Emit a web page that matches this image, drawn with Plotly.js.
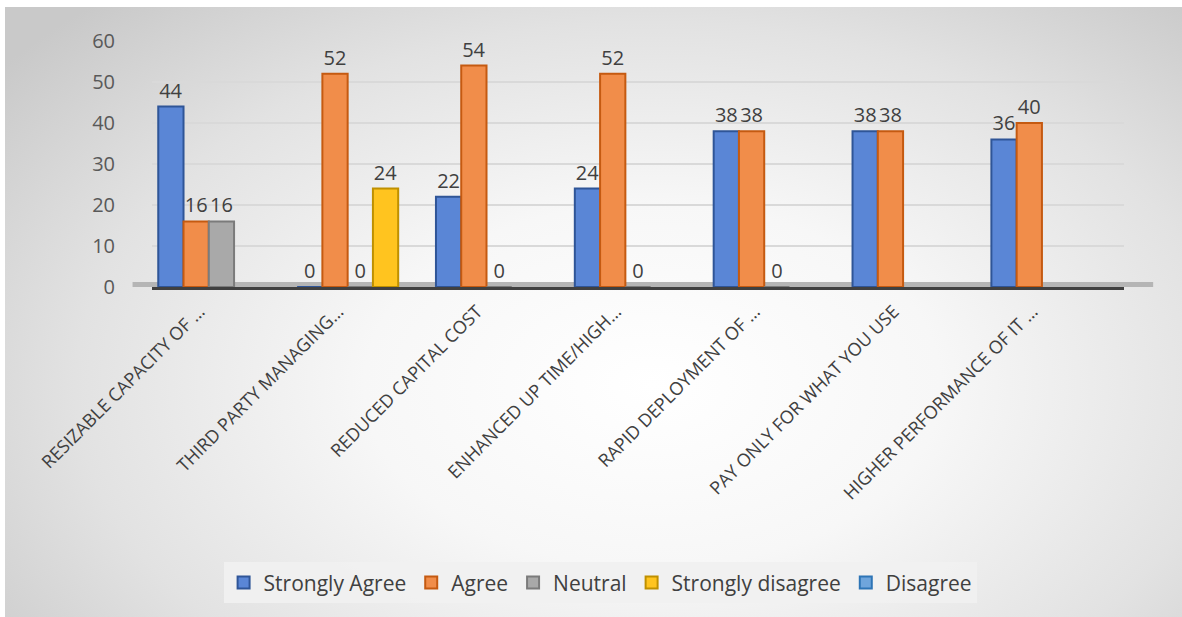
<!DOCTYPE html>
<html>
<head>
<meta charset="utf-8">
<script src="https://cdn.plot.ly/plotly-3.0.1.min.js"></script>
<style>
  html, body { margin: 0; padding: 0; background: #ffffff; }
  #wrap { position: relative; width: 1182px; height: 617px; background: #ffffff; overflow: hidden; }
  #chart {
    position: absolute; left: 5px; top: 7px; width: 1177px; height: 610px;
    background: radial-gradient(ellipse 70% 85% at 55% 62%, #ffffff 0%, #f7f7f7 35%, #e2e2e2 70%, #c9c9c9 100%);
  }
</style>
</head>
<body>
<div id="wrap"><div id="chart"></div></div>
<script>
// Survey responses on cloud benefits, per statement
const categories = [
  "RESIZABLE CAPACITY OF …",
  "THIRD PARTY MANAGING…",
  "REDUCED CAPITAL COST",
  "ENHANCED UP TIME/HIGH…",
  "RAPID DEPLOYMENT OF …",
  "PAY ONLY FOR WHAT YOU USE",
  "HIGHER PERFORMANCE OF IT …"
];
const stronglyAgree    = [44, 0, 22, 24, 38, 38, 36];
const agree            = [16, 52, 54, 52, 38, 38, 40];
const neutral          = [16, 0, 0, 0, 0, null, null];
const stronglyDisagree = [null, 24, null, null, null, null, null];
const disagree         = [null, null, null, null, null, null, null];
const yTicks = [0, 10, 20, 30, 40, 50, 60];

const FONT = "Open Sans, Noto Sans, sans-serif";

function series(name, values, fill, edge) {
  return {
    type: "bar",
    name: name,
    x: categories,
    y: values,
    texttemplate: "%{y}",
    textposition: "outside",
    cliponaxis: false,
    textfont: { family: FONT, size: 20, color: "#404040" },
    marker: { color: fill, line: { color: edge, width: 2 } },
    hoverinfo: "x+y+name"
  };
}

const data = [
  series("Strongly Agree", stronglyAgree, "#5a86d6", "#2f5597"),
  series("Agree", agree, "#f18d4a", "#c55a11"),
  series("Neutral", neutral, "#a9a9a9", "#7b7b7b"),
  series("Strongly disagree", stronglyDisagree, "#ffc41f", "#bf9000"),
  series("Disagree", disagree, "#6fa5dc", "#2e75b6")
];

const layout = {
  width: 1177,
  height: 610,
  paper_bgcolor: "rgba(0,0,0,0)",
  plot_bgcolor: "rgba(0,0,0,0)",
  margin: { l: 147, r: 58, t: 34, b: 330 },
  barmode: "group",
  bargap: 0.09,
  bargroupgap: 0,
  showlegend: true,
  font: { family: FONT, color: "#595959" },
  xaxis: {
    type: "category",
    tickangle: -45,
    tickfont: { family: FONT, size: 18, color: "#404040" },
    showgrid: false,
    showline: true,
    linecolor: "#404040",
    linewidth: 3,
    ticks: "",
    ticklabelstandoff: 4,
    ticklabelshift: -22
  },
  yaxis: {
    range: [0, 60],
    tickvals: yTicks,
    tickfont: { family: FONT, size: 20, color: "#595959" },
    showgrid: true,
    gridcolor: "#d9d9d9",
    gridwidth: 2,
    zeroline: false,
    showline: false,
    ticks: "",
    ticklabelstandoff: 36
  },
  shapes: [
    {
      type: "rect", layer: "below",
      xref: "paper", yref: "y",
      x0: -0.02, x1: 1.03, y0: 0, y1: 1.2,
      fillcolor: "#b5b5b5", line: { width: 0 }
    }
  ],
  legend: {
    orientation: "h",
    x: 0.461, xanchor: "center",
    y: -1.203, yanchor: "middle",
    bgcolor: "rgba(240,240,240,0.95)",
    font: { family: FONT, size: 21, color: "#404040" },
    itemwidth: 30,
    traceorder: "normal"
  }
};

Plotly.newPlot("chart", data, layout, { displayModeBar: false, staticPlot: true });
</script>
</body>
</html>
